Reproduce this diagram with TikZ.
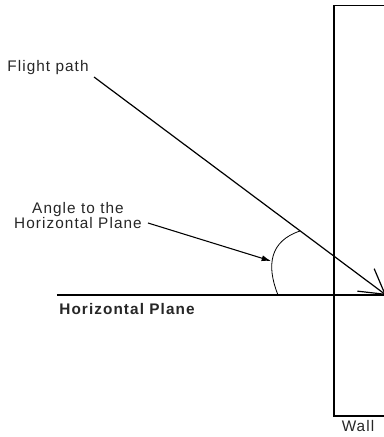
\documentclass[tikz,border=0pt]{standalone}
\usepackage{fontspec}
\setmainfont{Liberation Sans}[LetterSpace=7]
\usepackage{tikz}
\usetikzlibrary{arrows.meta}

\begin{document}
\begin{tikzpicture}[x=0.75pt,y=0.75pt,inner sep=0pt,
  font=\fontsize{11.5}{11.3}\selectfont,
  txt/.style={text=black!85},
  plane/.style={line width=1.9pt},
  flight/.style={line width=0.9pt,-{Straight Barb[length=18pt,width=21pt]}},
  pointer/.style={line width=0.8pt,-{Latex[length=7pt,width=4.5pt]}}]
\useasboundingbox (0,0) rectangle (384,437);
\clip (0,0) rectangle (384,437);
\coordinate (tip) at (386,142);
\coordinate (hl) at (57,142);
\coordinate (hr) at (400,142);
\coordinate (f0) at (94,360);
\coordinate (c0) at (278,142);
\coordinate (c1) at (300,206);
\coordinate (a0) at (148,214);
\coordinate (a1) at (271,176);

\draw[line width=1.1pt] (334,21) rectangle (410,431.5);
\node[txt] (wl) at (358,11) {Wall};
\node[txt] (fp) at (48,369) {Flight path};
\node[txt,align=center] (ang) at (78,221.5) {Angle to the\\Horizontal Plane};
\node[txt,font=\fontsize{11.5}{11.3}\selectfont\bfseries] (hp) at (127,128) {Horizontal Plane};

\draw[plane] (hl) -- (hr);
\draw[flight] (f0) -- (tip);
\draw[line width=0.6pt] (c0) .. controls (266,172) and (270,196) .. (c1);
\draw[pointer] (a0) -- (a1);
\end{tikzpicture}
\end{document}
